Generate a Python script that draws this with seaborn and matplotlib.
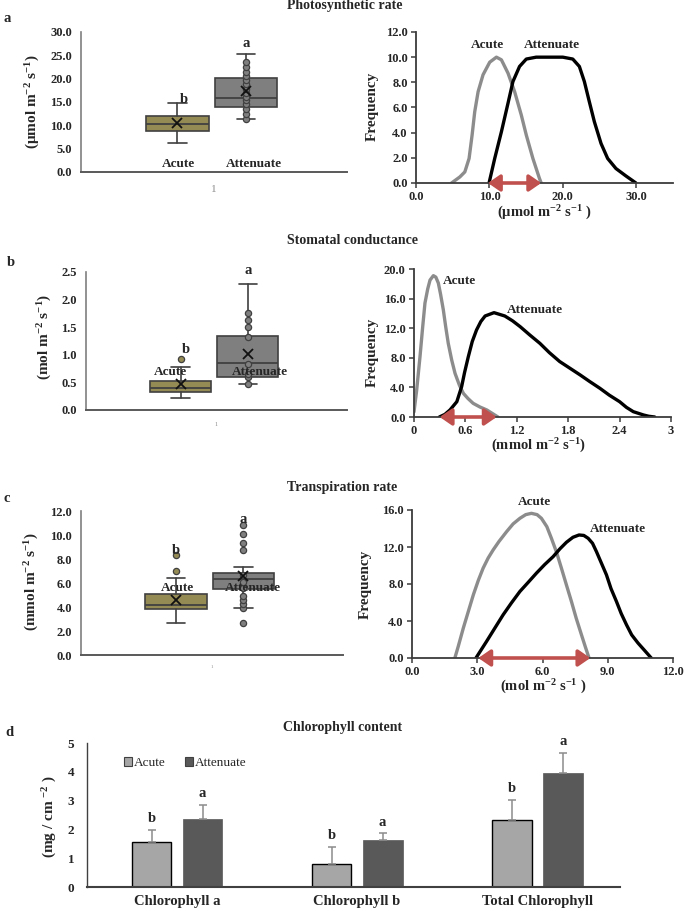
import numpy as np
import pandas as pd
import matplotlib
matplotlib.use('Agg')
import matplotlib.pyplot as plt
from matplotlib.patches import Patch
import seaborn as sns

# ---------------- DATA ----------------
groups = ['Acute', 'Attenuate']

# Photosynthetic rate box statistics (Acute, Attenuate)
photo_q1 = [8.8, 13.9]
photo_med = [10.2, 15.8]
photo_q3 = [12.1, 20.1]
photo_whislo = [6.15, 11.4]
photo_whishi = [14.85, 25.2]
photo_mean = [10.4, 17.3]
photo_pts_acute = []
photo_pts_atten = [11.45, 12.5, 13.45, 14.55, 15.4, 16.1, 16.95, 17.8, 18.8, 19.7, 20.6, 21.5, 22.45, 23.6]

# Stomatal conductance box statistics
stom_q1 = [0.32, 0.59]
stom_med = [0.405, 0.845]
stom_q3 = [0.53, 1.335]
stom_whislo = [0.22, 0.475]
stom_whishi = [0.775, 2.28]
stom_mean = [0.47, 1.01]
stom_pts_acute = [0.93]
stom_pts_atten = [0.48, 0.59, 0.65, 0.83, 1.32, 1.51, 1.63, 1.75]

# Transpiration rate box statistics
trans_q1 = [3.8, 5.47]
trans_med = [4.17, 6.33]
trans_q3 = [5.1, 6.8]
trans_whislo = [2.64, 3.94]
trans_whishi = [6.42, 7.36]
trans_mean = [4.58, 6.6]
trans_pts_acute = [7.03, 8.33]
trans_pts_atten = [2.64, 3.92, 4.27, 4.6, 4.95, 5.6, 6.1, 6.65, 8.72, 9.35, 10.1, 10.8]

# Frequency curves
photo_acute_x = [4.84, 5.97, 6.65, 7.23, 7.64, 8.0, 8.46, 9.13, 10.04, 10.95, 11.63, 12.53, 13.43, 14.34, 15.02, 15.92, 16.82, 17.05]
photo_acute_y = [0.0, 0.48, 0.88, 1.95, 3.81, 5.67, 7.26, 8.6, 9.6, 10.0, 9.79, 8.73, 7.26, 5.4, 3.81, 1.95, 0.35, 0.0]
photo_atten_x = [9.95, 10.72, 11.63, 12.53, 13.2, 14.1, 15.02, 16.37, 19.99, 21.35, 22.25, 22.93, 23.6, 24.29, 25.2, 26.1, 27.23, 28.59, 29.95]
photo_atten_y = [0.0, 1.95, 4.07, 6.34, 8.06, 9.26, 9.85, 10.0, 10.0, 9.85, 9.26, 8.06, 6.47, 4.87, 3.14, 1.95, 1.15, 0.56, 0.0]
photo_range = [9.8, 17.05]

stom_acute_x = [0.0, 0.03, 0.07, 0.10, 0.128, 0.16, 0.187, 0.226, 0.255, 0.284, 0.31, 0.342, 0.37, 0.40, 0.44, 0.479, 0.53, 0.576, 0.63, 0.69, 0.77, 0.85, 0.98]
stom_acute_y = [0.7, 3.5, 8.15, 12.0, 15.4, 17.3, 18.5, 19.1, 18.9, 18.1, 16.6, 14.5, 12.2, 9.95, 7.7, 5.9, 4.3, 3.2, 2.5, 1.85, 1.35, 0.95, 0.0]
stom_atten_x = [0.296, 0.36, 0.42, 0.50, 0.556, 0.59, 0.634, 0.68, 0.73, 0.78, 0.83, 0.934, 1.06, 1.15, 1.24, 1.35, 1.47, 1.58, 1.70, 1.94, 2.05, 2.17, 2.28, 2.40, 2.48, 2.56, 2.68, 2.74, 2.81]
stom_atten_y = [0.0, 0.35, 0.95, 2.07, 4.1, 6.0, 8.15, 10.2, 11.76, 12.9, 13.65, 14.1, 13.65, 13.0, 12.2, 11.1, 9.95, 8.7, 7.5, 5.68, 4.8, 3.88, 2.95, 2.07, 1.3, 0.72, 0.27, 0.1, 0.0]
stom_range = [0.30, 0.965]

trans_acute_x = [1.97, 2.12, 2.36, 2.82, 3.05, 3.27, 3.5, 3.73, 4.0, 4.35, 4.65, 4.96, 5.23, 5.49, 5.75, 5.95, 6.2, 6.41, 6.65, 6.87, 7.1, 7.33, 7.55, 7.79, 7.97, 8.14]
trans_acute_y = [0.0, 1.2, 3.24, 6.83, 8.4, 9.71, 10.8, 11.68, 12.6, 13.66, 14.5, 15.1, 15.5, 15.64, 15.5, 15.1, 14.2, 12.94, 11.4, 9.71, 7.9, 6.11, 4.3, 2.52, 1.2, 0.0]
trans_atten_x = [2.94, 3.43, 3.8, 4.19, 4.57, 4.96, 5.35, 5.72, 6.1, 6.49, 6.8, 7.1, 7.4, 7.68, 7.9, 8.1, 8.3, 8.48, 8.7, 8.94, 9.15, 9.4, 9.62, 9.86, 10.1, 10.39, 10.7, 11.0]
trans_atten_y = [0.0, 1.8, 3.2, 4.67, 5.95, 7.19, 8.2, 9.17, 10.1, 10.96, 11.8, 12.51, 13.05, 13.3, 13.25, 12.94, 12.4, 11.5, 10.3, 8.99, 7.5, 6.11, 4.8, 3.6, 2.5, 1.62, 0.8, 0.0]
trans_range = [3.05, 8.2]

# Chlorophyll content
chl_components = ['Chlorophyll a', 'Chlorophyll b', 'Total Chlorophyll']
chl_acute = [1.57, 0.79, 2.33]
chl_acute_err = [0.41, 0.60, 0.70]
chl_atten = [2.35, 1.63, 3.95]
chl_atten_err = [0.50, 0.23, 0.69]
chl_letters_acute = ['b', 'b', 'b']
chl_letters_atten = ['a', 'a', 'a']

# ---------------- STYLE ----------------
sns.set_theme(style='white')
plt.rcParams['font.family'] = ['Liberation Serif', 'DejaVu Serif']
plt.rcParams['font.weight'] = 'bold'
plt.rcParams['mathtext.fontset'] = 'custom'
plt.rcParams['mathtext.rm'] = 'Liberation Serif:bold'
plt.rcParams['mathtext.it'] = 'Liberation Serif:bold'
plt.rcParams['mathtext.bf'] = 'Liberation Serif:bold'
plt.rcParams['mathtext.default'] = 'rm'

OLIVE = '#948A54'
BOXGRAY = '#7F7F7F'
EDGE = '#404040'
LINE_GRAY = '#8C8C8C'
RED = '#C0504D'

W, H = 685, 911
fig = plt.figure(figsize=(W / 100, H / 100), dpi=100)


def add_ax(l, t, r, b):
    return fig.add_axes([l / W, 1 - b / H, (r - l) / W, (b - t) / H])


def ftext(x, y, s, **kw):
    return fig.text(x / W, 1 - y / H, s, **kw)


BOX_POS = [0.725, 1.24]


def draw_box_panel(ax, q1, med, q3, lo, hi, mean, pts_acute, pts_atten, ylim, yticks, fmt, tick1_size, tick1_pad):
    stats = []
    for i in range(2):
        stats.append(dict(q1=q1[i], med=med[i], q3=q3[i], whislo=lo[i], whishi=hi[i], mean=mean[i], fliers=[]))
    bp = ax.bxp(stats, positions=BOX_POS, widths=0.47, patch_artist=True, showmeans=True,
                showfliers=False, manage_ticks=False, capwidths=[0.14, 0.14],
                boxprops=dict(edgecolor=EDGE, linewidth=1.2),
                medianprops=dict(color=EDGE, linewidth=1.3),
                whiskerprops=dict(color=EDGE, linewidth=1.2),
                capprops=dict(color=EDGE, linewidth=1.2),
                meanprops=dict(marker='x', markeredgecolor='#111111', markersize=7, markeredgewidth=1.3))
    for patch, c in zip(bp['boxes'], [OLIVE, BOXGRAY]):
        patch.set_facecolor(c)
    for m in bp['means']:
        m.set_zorder(7)
    for pts, pos, c in [(pts_acute, BOX_POS[0], OLIVE), (pts_atten, BOX_POS[1], BOXGRAY)]:
        if len(pts):
            sns.scatterplot(x=[pos] * len(pts), y=pts, ax=ax, s=20, color=c, edgecolor=EDGE,
                            linewidth=0.9, zorder=5, legend=False)
    ax.set_xlim(0, 2)
    ax.set_ylim(*ylim)
    ax.set_yticks(yticks)
    ax.set_yticklabels([fmt.format(v) for v in yticks], fontsize=9, fontweight='bold')
    ax.set_xticks([1])
    ax.set_xticklabels(['1'], fontsize=tick1_size, color='#8c8c8c', fontweight='normal')
    ax.tick_params(axis='y', length=0, pad=6.5)
    ax.tick_params(axis='x', length=0, pad=tick1_pad)
    for s in ['top', 'right']:
        ax.spines[s].set_visible(False)
    ax.spines['left'].set_color('#7f7f7f')
    ax.spines['left'].set_linewidth(1.2)
    ax.spines['bottom'].set_color('#595959')
    ax.spines['bottom'].set_linewidth(1.4)
    ax.set_xlabel('')
    ax.set_ylabel('')


def draw_freq_panel(ax, ax_x, ax_y, at_x, at_y, rng, xlim, xticks, xlabels, ylim, yticks):
    sns.lineplot(x=ax_x, y=ax_y, ax=ax, sort=False, estimator=None, color=LINE_GRAY, linewidth=2.4,
                 solid_joinstyle='round', solid_capstyle='round')
    sns.lineplot(x=at_x, y=at_y, ax=ax, sort=False, estimator=None, color='black', linewidth=2.4,
                 solid_joinstyle='round', solid_capstyle='round')
    ax.annotate('', xy=(rng[1], 0), xytext=(rng[0], 0),
                arrowprops=dict(arrowstyle='<|-|>,head_length=0.55,head_width=0.38', color=RED,
                                lw=2.6, shrinkA=0, shrinkB=0, mutation_scale=13),
                annotation_clip=False, zorder=6)
    ax.set_xlim(*xlim)
    ax.set_ylim(*ylim)
    ax.set_xticks(xticks)
    ax.set_xticklabels(xlabels, fontsize=9, fontweight='bold')
    ax.set_yticks(yticks)
    ax.set_yticklabels([f'{v:.1f}' for v in yticks], fontsize=9, fontweight='bold')
    ax.tick_params(axis='both', direction='out', length=3.5, width=1.1, color='#3c3c3c',
                   left=True, bottom=True, pad=2.5)
    for s in ['top', 'right']:
        ax.spines[s].set_visible(False)
    for s in ['left', 'bottom']:
        ax.spines[s].set_color('#3c3c3c')
        ax.spines[s].set_linewidth(1.3)
    ax.set_xlabel('')
    ax.set_ylabel('')


# ---------------- PANEL A ----------------
ftext(4, 18, 'a', fontsize=10.5, fontweight='bold', ha='left', va='center')
ftext(287, 6, 'Photosynthetic rate', fontsize=10, fontweight='bold', ha='left', va='center')

axa = add_ax(81, 32, 347, 172)
draw_box_panel(axa, photo_q1, photo_med, photo_q3, photo_whislo, photo_whishi, photo_mean,
               photo_pts_acute, photo_pts_atten, (0, 30), np.arange(0, 30.1, 5), '{:.1f}', 8, 9)
axa.text(BOX_POS[0] + 0.045, 15.6, 'b', fontsize=10.5, fontweight='bold', ha='center', va='center')
axa.text(BOX_POS[1], 27.6, 'a', fontsize=10.5, fontweight='bold', ha='center', va='center')
axa.text(0.73, 1.7, 'Acute', fontsize=9.5, fontweight='bold', ha='center', va='center')
axa.text(1.30, 1.7, 'Attenuate', fontsize=9.5, fontweight='bold', ha='center', va='center')
ftext(33, 102, '(μmol m$^{-2}$ s$^{-1}$)', fontsize=11, fontweight='bold', rotation=90, ha='center', va='center')

axa2 = add_ax(416, 32, 673, 183)
draw_freq_panel(axa2, photo_acute_x, photo_acute_y, photo_atten_x, photo_atten_y, photo_range,
                (0, 35), [0, 10, 20, 30], ['0.0', '10.0', '20.0', '30.0'], (0, 12), np.arange(0, 12.1, 2))
axa2.text(9.8, 11.0, 'Acute', fontsize=9.5, fontweight='bold', ha='center', va='center')
axa2.text(18.5, 11.0, 'Attenuate', fontsize=9.5, fontweight='bold', ha='center', va='center')
ftext(372, 106, 'Frequency', fontsize=11, fontweight='bold', rotation=90, ha='center', va='center')
ftext(544, 213, '(μmol m$^{-2}$ s$^{-1}$ )', fontsize=10.5, fontweight='bold', ha='center', va='center')

# ---------------- PANEL B ----------------
ftext(7, 263, 'b', fontsize=10.5, fontweight='bold', ha='left', va='center')
ftext(287, 240, 'Stomatal conductance', fontsize=10, fontweight='bold', ha='left', va='center')

axb = add_ax(86, 272, 347, 410)
draw_box_panel(axb, stom_q1, stom_med, stom_q3, stom_whislo, stom_whishi, stom_mean,
               stom_pts_acute, stom_pts_atten, (0, 2.5), np.arange(0, 2.51, 0.5), '{:.1f}', 4.5, 9)
axb.text(BOX_POS[0] + 0.04, 1.09, 'b', fontsize=10.5, fontweight='bold', ha='center', va='center')
axb.text(BOX_POS[1], 2.52, 'a', fontsize=10.5, fontweight='bold', ha='center', va='center')
axb.text(0.644, 0.68, 'Acute', fontsize=9.5, fontweight='bold', ha='center', va='center', zorder=8)
axb.text(1.333, 0.68, 'Attenuate', fontsize=9.5, fontweight='bold', ha='center', va='center', zorder=8)
ftext(45, 337, '(mol m$^{-2}$ s$^{-1}$)', fontsize=11, fontweight='bold', rotation=90, ha='center', va='center')

axb2 = add_ax(414, 269, 671, 417)
draw_freq_panel(axb2, stom_acute_x, stom_acute_y, stom_atten_x, stom_atten_y, stom_range,
                (0, 3), [0, 0.6, 1.2, 1.8, 2.4, 3], ['0', '0.6', '1.2', '1.8', '2.4', '3'],
                (0, 20), np.arange(0, 20.1, 4))
axb2.text(0.53, 18.4, 'Acute', fontsize=9.5, fontweight='bold', ha='center', va='center')
axb2.text(1.41, 14.4, 'Attenuate', fontsize=9.5, fontweight='bold', ha='center', va='center')
ftext(372, 352, 'Frequency', fontsize=11, fontweight='bold', rotation=90, ha='center', va='center')
ftext(538, 446, '(mmol m$^{-2}$ s$^{-1}$)', fontsize=10.5, fontweight='bold', ha='center', va='center')

# ---------------- PANEL C ----------------
ftext(3, 498, 'c', fontsize=10.5, fontweight='bold', ha='left', va='center')
ftext(287, 487, 'Transpiration rate', fontsize=10, fontweight='bold', ha='left', va='center')

axc = add_ax(81, 511, 343, 655)
draw_box_panel(axc, trans_q1, trans_med, trans_q3, trans_whislo, trans_whishi, trans_mean,
               trans_pts_acute, trans_pts_atten, (0, 12), np.arange(0, 12.1, 2), '{:.1f}', 3.5, 7)
axc.text(BOX_POS[0], 8.75, 'b', fontsize=10.5, fontweight='bold', ha='center', va='center', zorder=8)
axc.text(BOX_POS[1], 11.33, 'a', fontsize=10.5, fontweight='bold', ha='center', va='center', zorder=8)
axc.text(0.738, 5.56, 'Acute', fontsize=9.5, fontweight='bold', ha='center', va='center', zorder=8)
axc.text(1.31, 5.56, 'Attenuate', fontsize=9.5, fontweight='bold', ha='center', va='center', zorder=8)
ftext(32, 582, '(mmol m$^{-2}$ s$^{-1}$)', fontsize=11, fontweight='bold', rotation=90, ha='center', va='center')

axc2 = add_ax(412, 510, 673, 658)
draw_freq_panel(axc2, trans_acute_x, trans_acute_y, trans_atten_x, trans_atten_y, trans_range,
                (0, 12), [0, 3, 6, 9, 12], ['0.0', '3.0', '6.0', '9.0', '12.0'],
                (0, 16), np.arange(0, 16.1, 4))
axc2.text(5.62, 16.9, 'Acute', fontsize=9.5, fontweight='bold', ha='center', va='center')
axc2.text(9.47, 13.95, 'Attenuate', fontsize=9.5, fontweight='bold', ha='center', va='center')
ftext(365, 584, 'Frequency', fontsize=11, fontweight='bold', rotation=90, ha='center', va='center')
ftext(543, 687, '(mol m$^{-2}$ s$^{-1}$ )', fontsize=10.5, fontweight='bold', ha='center', va='center')

# ---------------- PANEL D ----------------
ftext(5, 733, 'd', fontsize=10.5, fontweight='bold', ha='left', va='center')
ftext(283, 728, 'Chlorophyll content', fontsize=10, fontweight='bold', ha='left', va='center')

axd = add_ax(87, 743, 620, 887)
df = pd.DataFrame({
    'component': chl_components * 2,
    'group': [groups[0]] * 3 + [groups[1]] * 3,
    'value': chl_acute + chl_atten,
})
bar_colors = ['#A6A6A6', '#595959']
sns.barplot(data=df, x='component', y='value', hue='group', hue_order=groups, order=chl_components,
            palette=bar_colors, saturation=1, errorbar=None, width=0.567, gap=0.22, ax=axd,
            legend=False)
bar_containers = list(axd.containers)[:2]
errs = [chl_acute_err, chl_atten_err]
letters = [chl_letters_acute, chl_letters_atten]
for gi, cont in enumerate(bar_containers):
    for bi, bar in enumerate(cont.patches):
        if gi == 0:
            bar.set_edgecolor('black')
            bar.set_linewidth(1.0)
        else:
            bar.set_edgecolor('#595959')
            bar.set_linewidth(0.5)
        xc = bar.get_x() + bar.get_width() / 2
        h = bar.get_height()
        e = errs[gi][bi]
        axd.errorbar([xc], [h], yerr=[[0], [e]], fmt='none', ecolor='#8c8c8c', elinewidth=1.1,
                     capsize=3, capthick=1.1, zorder=3)
        axd.text(xc, h + e + 0.17, letters[gi][bi], fontsize=10.5, fontweight='bold',
                 ha='center', va='bottom')
axd.set_xlim(-0.5, 2.46)
axd.set_ylim(0, 5)
axd.set_yticks(range(0, 6))
axd.set_yticklabels([str(v) for v in range(0, 6)], fontsize=9.5, fontweight='bold')
axd.set_xticks(range(3))
axd.set_xticklabels(chl_components, fontsize=10.5, fontweight='bold')
axd.tick_params(axis='y', length=0, pad=9)
axd.tick_params(axis='x', length=0, pad=6)
for s in ['top', 'right']:
    axd.spines[s].set_visible(False)
axd.spines['left'].set_color('#404040')
axd.spines['left'].set_linewidth(1.0)
axd.spines['bottom'].set_color('#404040')
axd.spines['bottom'].set_linewidth(1.5)
axd.set_xlabel('')
axd.set_ylabel('')
handles = [Patch(facecolor=c, edgecolor='#404040', linewidth=0.8) for c in bar_colors]
axd.legend(handles, groups, loc='center left', bbox_to_anchor=(0.069, 0.861), ncol=2, frameon=False,
           prop={'family': 'Liberation Serif', 'size': 9.5, 'weight': 'normal'},
           handlelength=0.65, handleheight=0.65, handletextpad=0.15, columnspacing=1.4,
           borderaxespad=0, borderpad=0)
ftext(50, 817, '(mg / cm $^{-2}$ )', fontsize=11, fontweight='bold', rotation=90, ha='center', va='center')

fig.savefig('out.png', dpi=100)
